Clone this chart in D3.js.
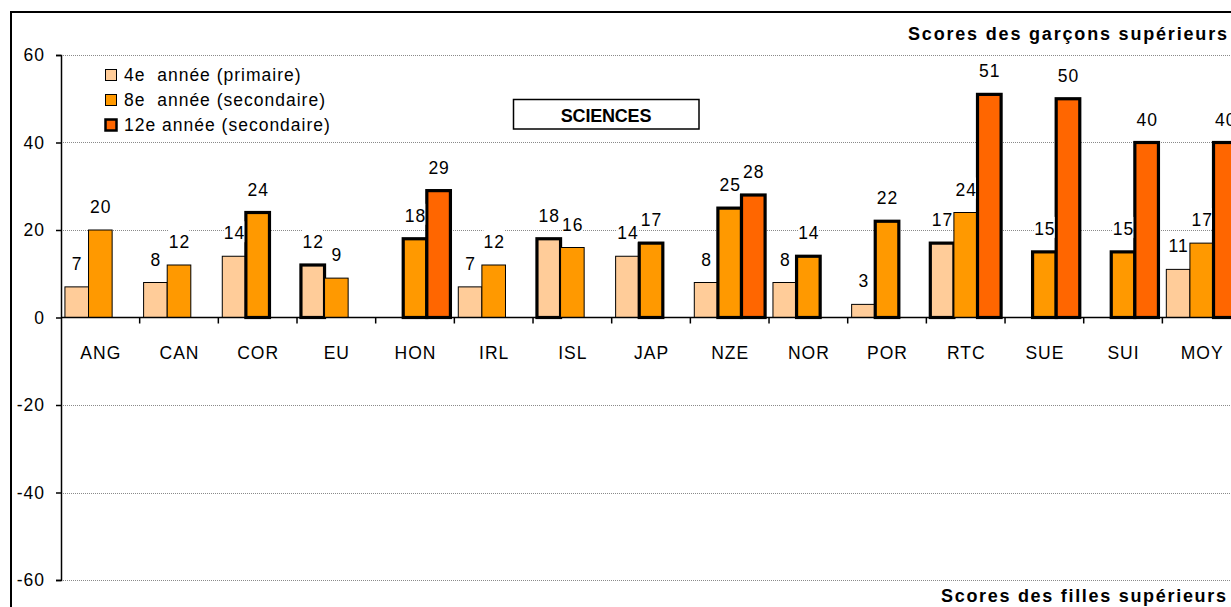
<!DOCTYPE html>
<html lang="fr">
<head>
<meta charset="utf-8">
<script src="https://cdn.jsdelivr.net/npm/d3@7"></script>
<style>
  html, body { margin: 0; padding: 0; background: #fff; }
  svg { display: block; font-family: "Liberation Sans", Arial, sans-serif; }
  text { white-space: pre; }
</style>
</head>
<body>
<svg id="chart" width="1231" height="607"></svg>
<script>
// Écarts de scores garçons - filles en sciences, par année d'études
const categories = ["ANG", "CAN", "COR", "EU", "HON", "IRL", "ISL", "JAP", "NZE", "NOR", "POR", "RTC", "SUE", "SUI", "MOY"];
const grade4  = [7, 8, 14, 12, null, 7, 18, 14, 8, 8, 3, 17, null, null, 11];
const grade8  = [20, 12, 24, 9, 18, 12, 16, 17, 25, 14, 22, 24, 15, 15, 17];
const grade12 = [null, null, null, null, 29, null, null, null, 28, null, null, 51, 50, 40, 40];
// différences statistiquement significatives (contour épais)
const signif4  = [false, false, false, true, false, false, true, false, false, false, false, true, false, false, false];
const signif8  = [false, false, true, false, true, false, false, true, true, true, true, false, true, true, false];
const signif12 = [false, false, false, false, true, false, false, false, true, false, false, true, true, true, true];
const seriesNames = ["4e  année (primaire)", "8e  année (secondaire)", "12e année (secondaire)"];
const yTicks = [-60, -40, -20, 0, 20, 40, 60];

const colors = ["#FFCC99", "#FF9900", "#FF6600"];
const series = [
  { name: seriesNames[0], values: grade4,  signif: signif4,  color: colors[0] },
  { name: seriesNames[1], values: grade8,  signif: signif8,  color: colors[1] },
  { name: seriesNames[2], values: grade12, signif: signif12, color: colors[2] }
];

const W = 1231, H = 607;
const svg = d3.select("#chart");
const FS = 17.5;   // taille du texte courant
const LS = 1.0;    // espacement des lettres

const plotLeft = 61, bandW = 78.67;
const y = d3.scaleLinear().domain([-60, 60]).range([580, 55]);
const x0 = d3.scaleBand().domain(categories)
  .range([plotLeft, plotLeft + categories.length * bandW]).padding(0);
const x1 = d3.scaleBand().domain([0, 1, 2])
  .range([x0.bandwidth() * 0.05, x0.bandwidth() * 0.95]).padding(0);

// cadre du graphique
svg.append("rect")
  .attr("x", 11).attr("y", 12).attr("width", 1400).attr("height", 800)
  .attr("fill", "none").attr("stroke", "#000").attr("stroke-width", 2);

// quadrillage
svg.append("g").selectAll("line")
  .data(yTicks.filter(t => t !== 0))
  .join("line")
  .attr("x1", plotLeft).attr("x2", W)
  .attr("y1", d => Math.round(y(d)) + 0.5).attr("y2", d => Math.round(y(d)) + 0.5)
  .attr("stroke", "#8a8a8a").attr("stroke-width", 1)
  .attr("stroke-dasharray", "1 1");

// barres
const bars = [];
series.forEach((s, si) => {
  s.values.forEach((v, i) => {
    if (v !== null) bars.push({ cat: categories[i], si, v, sig: s.signif[i], color: s.color });
  });
});

svg.append("g").selectAll("rect")
  .data(bars)
  .join("rect")
  .attr("x", d => x0(d.cat) + x1(d.si))
  .attr("y", d => y(d.v))
  .attr("width", x1.bandwidth())
  .attr("height", d => y(0) - y(d.v))
  .attr("fill", d => d.color)
  .attr("stroke", "#000")
  .attr("stroke-width", d => d.sig ? 3.2 : 1);

// axe vertical
const yAxis = svg.append("g")
  .attr("transform", `translate(${plotLeft},0)`)
  .call(d3.axisLeft(y).tickValues(yTicks).tickSize(5).tickPadding(11).tickFormat(d3.format("d")));
yAxis.select(".domain").attr("stroke", "#000").attr("stroke-width", 1.5);
yAxis.selectAll(".tick line").attr("stroke", "#000").attr("stroke-width", 1.5);
yAxis.selectAll(".tick text")
  .attr("font-size", FS).attr("fill", "#000")
  .style("letter-spacing", LS + "px")
  .attr("font-family", "Liberation Sans, Arial, sans-serif")
  .text(d => d < 0 ? "-" + Math.abs(d) : d);

// axe des catégories (à zéro)
const y0 = y(0);
const xAxis = svg.append("g");
xAxis.append("line")
  .attr("x1", plotLeft).attr("x2", W)
  .attr("y1", y0).attr("y2", y0)
  .attr("stroke", "#000").attr("stroke-width", 1.5);
xAxis.selectAll("line.tk")
  .data(categories.slice(1))
  .join("line").attr("class", "tk")
  .attr("x1", d => x0(d)).attr("x2", d => x0(d))
  .attr("y1", y0).attr("y2", y0 + 6)
  .attr("stroke", "#000").attr("stroke-width", 1.5);
xAxis.selectAll("text")
  .data(categories)
  .join("text")
  .attr("x", d => x0(d) + x0.bandwidth() / 2 + LS / 2)
  .attr("y", 358.5)
  .attr("text-anchor", "middle")
  .attr("font-size", FS)
  .style("letter-spacing", LS + "px")
  .text(d => d);

// étiquettes de valeurs sur fond blanc
const labelG = svg.append("g");
bars.forEach(d => {
  const g = labelG.append("g");
  const t = g.append("text")
    .attr("x", x0(d.cat) + x1(d.si) + x1.bandwidth() / 2 + LS / 2)
    .attr("y", y(d.v) - 17)
    .attr("text-anchor", "middle")
    .attr("font-size", FS)
    .style("letter-spacing", LS + "px")
    .text(d.v);
  const b = t.node().getBBox();
  g.insert("rect", "text")
    .attr("x", b.x).attr("y", b.y - 2)
    .attr("width", b.width - LS).attr("height", b.height + 1)
    .attr("fill", "#fff");
});

// légende
const legend = svg.append("g");
series.forEach((s, i) => {
  legend.append("rect")
    .attr("x", 105.5).attr("y", 69.5 + i * 25)
    .attr("width", 11).attr("height", 11)
    .attr("fill", s.color).attr("stroke", "#000")
    .attr("stroke-width", i === 2 ? 2.5 : 1);
  legend.append("text")
    .attr("x", 124).attr("y", 80.5 + i * 25)
    .attr("font-size", FS)
    .style("letter-spacing", LS + "px")
    .text(s.name);
});

// titre encadré
svg.append("rect")
  .attr("x", 513.5).attr("y", 99.5).attr("width", 185.5).attr("height", 29.5)
  .attr("fill", "#fff").attr("stroke", "#000").attr("stroke-width", 1.5);
svg.append("text")
  .attr("x", 606).attr("y", 121.5)
  .attr("text-anchor", "middle")
  .attr("font-size", 18).attr("font-weight", "bold")
  .style("letter-spacing", "-0.2px")
  .text("SCIENCES");

// annotations des sens de l'écart
svg.append("text")
  .attr("x", 908).attr("y", 40)
  .attr("font-size", 18).attr("font-weight", "bold")
  .attr("textLength", 319).attr("lengthAdjust", "spacing")
  .text("Scores des garçons supérieurs");
svg.append("text")
  .attr("x", 941).attr("y", 601.5)
  .attr("font-size", 18).attr("font-weight", "bold")
  .attr("textLength", 285).attr("lengthAdjust", "spacing")
  .text("Scores des filles supérieurs");
</script>
</body>
</html>
